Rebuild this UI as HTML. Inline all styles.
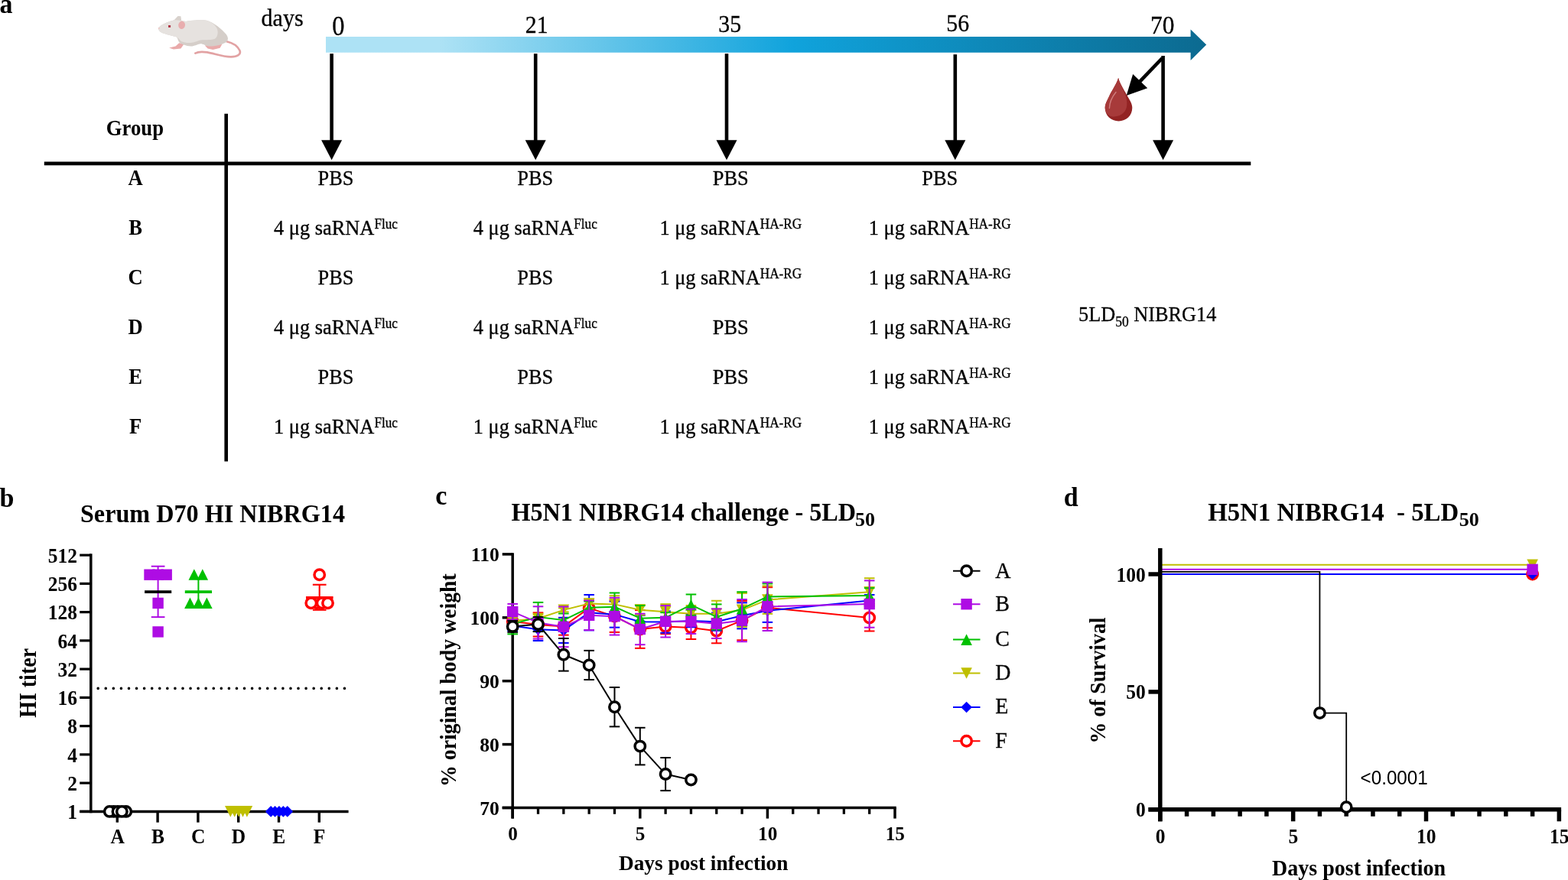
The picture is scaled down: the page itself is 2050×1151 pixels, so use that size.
<!DOCTYPE html>
<html lang="en">
<head>
<meta charset="utf-8">
<title>Figure: saRNA prime-boost schedule, HI titers, body weight and survival</title>
<style>
html,body{margin:0;padding:0;background:#fff;}
body{width:2050px;height:1151px;overflow:hidden;}
svg{display:block;}
text{fill:#000;}
</style>
</head>
<body>
<svg width="2050" height="1151" viewBox="0 0 2050 1151">
<defs>
<linearGradient id="tl" x1="0" y1="0" x2="1" y2="0">
<stop offset="0" stop-color="#ade2f5"/>
<stop offset="0.13" stop-color="#ade2f5"/>
<stop offset="0.53" stop-color="#10a3dc"/>
<stop offset="1" stop-color="#0c6a90"/>
</linearGradient>
</defs>
<rect x="0" y="0" width="2050" height="1151" fill="#fff"/>
<g id="panel-a">
<text transform="translate(-0.5 16.6) scale(1 1.045)" font-size="34" font-weight="bold" text-anchor="start" font-family="'Liberation Serif','Times New Roman',serif" >a</text>
<text transform="translate(341.6 34.1) scale(1 1.03)" font-size="30" font-weight="normal" text-anchor="start" font-family="'Liberation Serif','Times New Roman',serif" stroke="#000" stroke-width="0.3">days</text>
<g id="mouse">
<path d="M296.3 54.2 C303.5 55.8 310.5 60 313.4 66 C315.6 71.5 310 74.3 302 74.4 C291 74.4 281 70.3 271 68.4 C264.5 67.4 258.5 67.8 255.4 69.6" fill="none" stroke="#e2a2a3" stroke-width="2.7" stroke-linecap="round"/>
<path d="M234.2 56.2 L229.5 60.6 L221.2 62.6 L226.8 64.6 L236.4 63.6 L240.6 57.6 Z" fill="#e9aaaa"/>
<path d="M267.8 59.4 L271.6 63.6 L278.4 65 L287.6 62.8 L290.6 57.2 Z" fill="#e9aaaa"/>
<path d="M227.4 26.4 L232.6 21 L236.4 21.2 L237.2 27.2 Z" fill="#d8d1cc"/>
<path d="M207.2 36.6 C208.5 33.4 217 29.2 227 26.4 C232 25.6 238 27.6 243 28 C250 26.6 262 25.9 270 26.7 C280 29.6 290 38 295.6 44.8 C298.8 49 298.8 53 295.2 55.4 C290 58.6 280 60.6 273.6 60.4 C268 59.8 265.6 57.2 262.2 57.2 C257 58 254 60.8 249.4 60.6 C243 60 238 58.2 234.8 55.8 C232.6 53.6 232.6 50 231 48.4 C226 46.8 216 45.2 210.2 42 C208 40.6 206.8 38.4 207.2 36.6 Z" fill="#d5cec9"/>
<path d="M207.2 36.6 C208.5 33.4 217 29.2 227 26.4 C232 25.6 238 27.6 243 28 C250 26.6 262 25.9 270 26.7 C276.5 28.6 281.5 32.6 284 38 C285.6 43 284.4 48.6 280.6 51 C274 53 266 51.4 260 53 C254 55.6 248 56.6 243 55.8 C238 55 235.6 53.6 234.8 51.8 C233.6 50.4 232.6 49.4 231 48.4 C226 46.8 216 45.2 210.2 42 C208 40.6 206.8 38.4 207.2 36.6 Z" fill="#e6e2df"/>
<ellipse cx="237.6" cy="32.8" rx="4.4" ry="5.2" fill="#e8adae" transform="rotate(10 237.6 32.8)"/>
<rect x="220" y="33" width="3.1" height="2.9" fill="#b03848"/>
<circle cx="207.8" cy="36.9" r="1" fill="#efc6c6"/>
</g>
<polygon points="426,48 1556.6,48 1556.6,38.4 1577.2,58.6 1556.6,79 1556.6,68.8 426,68.8" fill="url(#tl)"/>
<text transform="translate(442.4 46.35) scale(1 1.075)" font-size="32.5" font-weight="normal" text-anchor="middle" font-family="'Liberation Serif','Times New Roman',serif" stroke="#000" stroke-width="0.3">0</text>
<text transform="translate(701.7 43.45) scale(1 1.075)" font-size="29.8" font-weight="normal" text-anchor="middle" font-family="'Liberation Serif','Times New Roman',serif" stroke="#000" stroke-width="0.3">21</text>
<text transform="translate(954.2 41.75) scale(1 1.075)" font-size="29.8" font-weight="normal" text-anchor="middle" font-family="'Liberation Serif','Times New Roman',serif" stroke="#000" stroke-width="0.3">35</text>
<text transform="translate(1252.2 41.15) scale(1 1.075)" font-size="29.8" font-weight="normal" text-anchor="middle" font-family="'Liberation Serif','Times New Roman',serif" stroke="#000" stroke-width="0.3">56</text>
<text transform="translate(1519.7 43.85) scale(1 1.075)" font-size="31.4" font-weight="normal" text-anchor="middle" font-family="'Liberation Serif','Times New Roman',serif" stroke="#000" stroke-width="0.3">70</text>
<line x1="433.6" y1="70.2" x2="433.6" y2="184.3" stroke="#000000" stroke-width="4.6" />
<polygon points="420.1,183.3 447.1,183.3 433.6,209.3" fill="#000000" />
<line x1="700.2" y1="70.2" x2="700.2" y2="184.3" stroke="#000000" stroke-width="4.6" />
<polygon points="686.7,183.3 713.7,183.3 700.2,209.3" fill="#000000" />
<line x1="950" y1="70.2" x2="950" y2="184.3" stroke="#000000" stroke-width="4.6" />
<polygon points="936.5,183.3 963.5,183.3 950,209.3" fill="#000000" />
<line x1="1248.8" y1="71.2" x2="1248.8" y2="184.3" stroke="#000000" stroke-width="4.6" />
<polygon points="1235.3,183.3 1262.3,183.3 1248.8,209.3" fill="#000000" />
<line x1="1520.6" y1="73" x2="1520.6" y2="184.3" stroke="#000000" stroke-width="4.6" />
<polygon points="1507.1,183.3 1534.1,183.3 1520.6,209.3" fill="#000000" />
<line x1="1519.6" y1="76" x2="1489.99" y2="106.94" stroke="#000000" stroke-width="4.6" />
<polygon points="1472.7,125 1500.21,115.34 1481.14,97.09" fill="#000000" />
<path d="M1462.1 101.8 C1463.5 108 1469 116.5 1473 124 C1477 131 1480.3 135.5 1480.3 141 C1480.3 151 1472.5 158.4 1462.5 158.4 C1452.5 158.4 1444.7 151 1444.7 141 C1444.7 135.5 1448 131 1451 124 C1455 116.5 1460.7 108 1462.1 101.8 Z" fill="#932323"/>
<path d="M1462.1 101.8 C1463.3 108 1468 116 1470.8 123 C1473 129 1473.6 133 1473.3 137 C1473 146 1466 152 1457 152.6 C1452 153 1448.5 150.5 1446.6 147.5 C1445.4 145.3 1444.7 143 1444.7 141 C1444.7 135.5 1448 131 1451 124 C1455 116.5 1460.7 108 1462.1 101.8 Z" fill="#a73a3a"/>
<path d="M1450.4 141.5 C1450.6 133 1454.5 126 1459 120.5" fill="none" stroke="#cf7d7d" stroke-width="1.4" stroke-linecap="round"/>
<line x1="57.8" y1="213.85" x2="1635.3" y2="213.85" stroke="#000000" stroke-width="4.8" />
<line x1="295.7" y1="148.8" x2="295.7" y2="603.5" stroke="#000000" stroke-width="4.6" />
<text transform="translate(176.4 176.8) scale(1 1.075)" font-size="26.7" font-weight="bold" text-anchor="middle" font-family="'Liberation Serif','Times New Roman',serif" >Group</text>
<text transform="translate(177.2 241.75) scale(1 1.07)" font-size="26.6" font-weight="bold" text-anchor="middle" font-family="'Liberation Serif','Times New Roman',serif" >A</text>
<text transform="translate(439 241.75) scale(1 1.075)" font-size="26.4" font-weight="normal" text-anchor="middle" font-family="'Liberation Serif','Times New Roman',serif" stroke="#000" stroke-width="0.3">PBS</text>
<text transform="translate(699.8 241.75) scale(1 1.075)" font-size="26.4" font-weight="normal" text-anchor="middle" font-family="'Liberation Serif','Times New Roman',serif" stroke="#000" stroke-width="0.3">PBS</text>
<text transform="translate(955.3 241.75) scale(1 1.075)" font-size="26.4" font-weight="normal" text-anchor="middle" font-family="'Liberation Serif','Times New Roman',serif" stroke="#000" stroke-width="0.3">PBS</text>
<text transform="translate(1228.7 241.75) scale(1 1.075)" font-size="26.4" font-weight="normal" text-anchor="middle" font-family="'Liberation Serif','Times New Roman',serif" stroke="#000" stroke-width="0.3">PBS</text>
<text transform="translate(177.2 306.75) scale(1 1.07)" font-size="26.6" font-weight="bold" text-anchor="middle" font-family="'Liberation Serif','Times New Roman',serif" >B</text>
<text transform="translate(439 306.75) scale(1 1.075)" font-size="26.4" font-weight="normal" text-anchor="middle" font-family="'Liberation Serif','Times New Roman',serif" stroke="#000" stroke-width="0.3">4 μg saRNA<tspan font-size="17.2" dy="-7.4">Fluc</tspan></text>
<text transform="translate(699.8 306.75) scale(1 1.075)" font-size="26.4" font-weight="normal" text-anchor="middle" font-family="'Liberation Serif','Times New Roman',serif" stroke="#000" stroke-width="0.3">4 μg saRNA<tspan font-size="17.2" dy="-7.4">Fluc</tspan></text>
<text transform="translate(955.3 306.75) scale(1 1.075)" font-size="26.4" font-weight="normal" text-anchor="middle" font-family="'Liberation Serif','Times New Roman',serif" stroke="#000" stroke-width="0.3">1 μg saRNA<tspan font-size="17.2" dy="-7.4">HA-RG</tspan></text>
<text transform="translate(1228.7 306.75) scale(1 1.075)" font-size="26.4" font-weight="normal" text-anchor="middle" font-family="'Liberation Serif','Times New Roman',serif" stroke="#000" stroke-width="0.3">1 μg saRNA<tspan font-size="17.2" dy="-7.4">HA-RG</tspan></text>
<text transform="translate(177.2 371.75) scale(1 1.07)" font-size="26.6" font-weight="bold" text-anchor="middle" font-family="'Liberation Serif','Times New Roman',serif" >C</text>
<text transform="translate(439 371.75) scale(1 1.075)" font-size="26.4" font-weight="normal" text-anchor="middle" font-family="'Liberation Serif','Times New Roman',serif" stroke="#000" stroke-width="0.3">PBS</text>
<text transform="translate(699.8 371.75) scale(1 1.075)" font-size="26.4" font-weight="normal" text-anchor="middle" font-family="'Liberation Serif','Times New Roman',serif" stroke="#000" stroke-width="0.3">PBS</text>
<text transform="translate(955.3 371.75) scale(1 1.075)" font-size="26.4" font-weight="normal" text-anchor="middle" font-family="'Liberation Serif','Times New Roman',serif" stroke="#000" stroke-width="0.3">1 μg saRNA<tspan font-size="17.2" dy="-7.4">HA-RG</tspan></text>
<text transform="translate(1228.7 371.75) scale(1 1.075)" font-size="26.4" font-weight="normal" text-anchor="middle" font-family="'Liberation Serif','Times New Roman',serif" stroke="#000" stroke-width="0.3">1 μg saRNA<tspan font-size="17.2" dy="-7.4">HA-RG</tspan></text>
<text transform="translate(177.2 436.75) scale(1 1.07)" font-size="26.6" font-weight="bold" text-anchor="middle" font-family="'Liberation Serif','Times New Roman',serif" >D</text>
<text transform="translate(439 436.75) scale(1 1.075)" font-size="26.4" font-weight="normal" text-anchor="middle" font-family="'Liberation Serif','Times New Roman',serif" stroke="#000" stroke-width="0.3">4 μg saRNA<tspan font-size="17.2" dy="-7.4">Fluc</tspan></text>
<text transform="translate(699.8 436.75) scale(1 1.075)" font-size="26.4" font-weight="normal" text-anchor="middle" font-family="'Liberation Serif','Times New Roman',serif" stroke="#000" stroke-width="0.3">4 μg saRNA<tspan font-size="17.2" dy="-7.4">Fluc</tspan></text>
<text transform="translate(955.3 436.75) scale(1 1.075)" font-size="26.4" font-weight="normal" text-anchor="middle" font-family="'Liberation Serif','Times New Roman',serif" stroke="#000" stroke-width="0.3">PBS</text>
<text transform="translate(1228.7 436.75) scale(1 1.075)" font-size="26.4" font-weight="normal" text-anchor="middle" font-family="'Liberation Serif','Times New Roman',serif" stroke="#000" stroke-width="0.3">1 μg saRNA<tspan font-size="17.2" dy="-7.4">HA-RG</tspan></text>
<text transform="translate(177.2 501.75) scale(1 1.07)" font-size="26.6" font-weight="bold" text-anchor="middle" font-family="'Liberation Serif','Times New Roman',serif" >E</text>
<text transform="translate(439 501.75) scale(1 1.075)" font-size="26.4" font-weight="normal" text-anchor="middle" font-family="'Liberation Serif','Times New Roman',serif" stroke="#000" stroke-width="0.3">PBS</text>
<text transform="translate(699.8 501.75) scale(1 1.075)" font-size="26.4" font-weight="normal" text-anchor="middle" font-family="'Liberation Serif','Times New Roman',serif" stroke="#000" stroke-width="0.3">PBS</text>
<text transform="translate(955.3 501.75) scale(1 1.075)" font-size="26.4" font-weight="normal" text-anchor="middle" font-family="'Liberation Serif','Times New Roman',serif" stroke="#000" stroke-width="0.3">PBS</text>
<text transform="translate(1228.7 501.75) scale(1 1.075)" font-size="26.4" font-weight="normal" text-anchor="middle" font-family="'Liberation Serif','Times New Roman',serif" stroke="#000" stroke-width="0.3">1 μg saRNA<tspan font-size="17.2" dy="-7.4">HA-RG</tspan></text>
<text transform="translate(177.2 566.75) scale(1 1.07)" font-size="26.6" font-weight="bold" text-anchor="middle" font-family="'Liberation Serif','Times New Roman',serif" >F</text>
<text transform="translate(439 566.75) scale(1 1.075)" font-size="26.4" font-weight="normal" text-anchor="middle" font-family="'Liberation Serif','Times New Roman',serif" stroke="#000" stroke-width="0.3">1 μg saRNA<tspan font-size="17.2" dy="-7.4">Fluc</tspan></text>
<text transform="translate(699.8 566.75) scale(1 1.075)" font-size="26.4" font-weight="normal" text-anchor="middle" font-family="'Liberation Serif','Times New Roman',serif" stroke="#000" stroke-width="0.3">1 μg saRNA<tspan font-size="17.2" dy="-7.4">Fluc</tspan></text>
<text transform="translate(955.3 566.75) scale(1 1.075)" font-size="26.4" font-weight="normal" text-anchor="middle" font-family="'Liberation Serif','Times New Roman',serif" stroke="#000" stroke-width="0.3">1 μg saRNA<tspan font-size="17.2" dy="-7.4">HA-RG</tspan></text>
<text transform="translate(1228.7 566.75) scale(1 1.075)" font-size="26.4" font-weight="normal" text-anchor="middle" font-family="'Liberation Serif','Times New Roman',serif" stroke="#000" stroke-width="0.3">1 μg saRNA<tspan font-size="17.2" dy="-7.4">HA-RG</tspan></text>
<text transform="translate(1410 420) scale(1 1.075)" font-size="26.3" font-weight="normal" text-anchor="start" font-family="'Liberation Serif','Times New Roman',serif" stroke="#000" stroke-width="0.3">5LD<tspan font-size="17.5" dy="6.2">50</tspan><tspan dy="-6.2"> NIBRG14</tspan></text>
</g>
<g id="panel-b">
<text transform="translate(-0.5 662.5) scale(1 1.045)" font-size="34" font-weight="bold" text-anchor="start" font-family="'Liberation Serif','Times New Roman',serif" >b</text>
<text transform="translate(278 683.3) scale(1 1.045)" font-size="32.2" font-weight="bold" text-anchor="middle" font-family="'Liberation Serif','Times New Roman',serif" >Serum D70 HI NIBRG14</text>
<line x1="118.8" y1="724.35" x2="118.8" y2="1063.15" stroke="#000000" stroke-width="3.5" />
<line x1="104.2" y1="1061.4" x2="455.6" y2="1061.4" stroke="#000000" stroke-width="3.5" />
<line x1="104.2" y1="726.1" x2="118.8" y2="726.1" stroke="#000000" stroke-width="3.2" />
<text transform="translate(100.9 735.8) scale(1 1.045)" font-size="25.5" font-weight="bold" text-anchor="end" font-family="'Liberation Serif','Times New Roman',serif" >512</text>
<line x1="104.2" y1="763.36" x2="118.8" y2="763.36" stroke="#000000" stroke-width="3.2" />
<text transform="translate(100.9 773.06) scale(1 1.045)" font-size="25.5" font-weight="bold" text-anchor="end" font-family="'Liberation Serif','Times New Roman',serif" >256</text>
<line x1="104.2" y1="800.61" x2="118.8" y2="800.61" stroke="#000000" stroke-width="3.2" />
<text transform="translate(100.9 810.31) scale(1 1.045)" font-size="25.5" font-weight="bold" text-anchor="end" font-family="'Liberation Serif','Times New Roman',serif" >128</text>
<line x1="104.2" y1="837.87" x2="118.8" y2="837.87" stroke="#000000" stroke-width="3.2" />
<text transform="translate(100.9 847.57) scale(1 1.045)" font-size="25.5" font-weight="bold" text-anchor="end" font-family="'Liberation Serif','Times New Roman',serif" >64</text>
<line x1="104.2" y1="875.12" x2="118.8" y2="875.12" stroke="#000000" stroke-width="3.2" />
<text transform="translate(100.9 884.82) scale(1 1.045)" font-size="25.5" font-weight="bold" text-anchor="end" font-family="'Liberation Serif','Times New Roman',serif" >32</text>
<line x1="104.2" y1="912.38" x2="118.8" y2="912.38" stroke="#000000" stroke-width="3.2" />
<text transform="translate(100.9 922.08) scale(1 1.045)" font-size="25.5" font-weight="bold" text-anchor="end" font-family="'Liberation Serif','Times New Roman',serif" >16</text>
<line x1="104.2" y1="949.63" x2="118.8" y2="949.63" stroke="#000000" stroke-width="3.2" />
<text transform="translate(100.9 959.33) scale(1 1.045)" font-size="25.5" font-weight="bold" text-anchor="end" font-family="'Liberation Serif','Times New Roman',serif" >8</text>
<line x1="104.2" y1="986.89" x2="118.8" y2="986.89" stroke="#000000" stroke-width="3.2" />
<text transform="translate(100.9 996.59) scale(1 1.045)" font-size="25.5" font-weight="bold" text-anchor="end" font-family="'Liberation Serif','Times New Roman',serif" >4</text>
<line x1="104.2" y1="1024.14" x2="118.8" y2="1024.14" stroke="#000000" stroke-width="3.2" />
<text transform="translate(100.9 1033.84) scale(1 1.045)" font-size="25.5" font-weight="bold" text-anchor="end" font-family="'Liberation Serif','Times New Roman',serif" >2</text>
<line x1="104.2" y1="1061.4" x2="118.8" y2="1061.4" stroke="#000000" stroke-width="3.2" />
<text transform="translate(100.9 1071.1) scale(1 1.045)" font-size="25.5" font-weight="bold" text-anchor="end" font-family="'Liberation Serif','Times New Roman',serif" >1</text>
<line x1="153.3" y1="1061.4" x2="153.3" y2="1075.7" stroke="#000000" stroke-width="3.4" />
<text transform="translate(153.6 1102.7) scale(1 1.045)" font-size="25.5" font-weight="bold" text-anchor="middle" font-family="'Liberation Serif','Times New Roman',serif" >A</text>
<line x1="206.1" y1="1061.4" x2="206.1" y2="1075.7" stroke="#000000" stroke-width="3.4" />
<text transform="translate(206.4 1102.7) scale(1 1.045)" font-size="25.5" font-weight="bold" text-anchor="middle" font-family="'Liberation Serif','Times New Roman',serif" >B</text>
<line x1="258.9" y1="1061.4" x2="258.9" y2="1075.7" stroke="#000000" stroke-width="3.4" />
<text transform="translate(259.2 1102.7) scale(1 1.045)" font-size="25.5" font-weight="bold" text-anchor="middle" font-family="'Liberation Serif','Times New Roman',serif" >C</text>
<line x1="311.7" y1="1061.4" x2="311.7" y2="1075.7" stroke="#000000" stroke-width="3.4" />
<text transform="translate(312 1102.7) scale(1 1.045)" font-size="25.5" font-weight="bold" text-anchor="middle" font-family="'Liberation Serif','Times New Roman',serif" >D</text>
<line x1="364.5" y1="1061.4" x2="364.5" y2="1075.7" stroke="#000000" stroke-width="3.4" />
<text transform="translate(364.8 1102.7) scale(1 1.045)" font-size="25.5" font-weight="bold" text-anchor="middle" font-family="'Liberation Serif','Times New Roman',serif" >E</text>
<line x1="417.3" y1="1061.4" x2="417.3" y2="1075.7" stroke="#000000" stroke-width="3.4" />
<text transform="translate(417.6 1102.7) scale(1 1.045)" font-size="25.5" font-weight="bold" text-anchor="middle" font-family="'Liberation Serif','Times New Roman',serif" >F</text>
<text transform="translate(47.1 893.4) rotate(-90) scale(1 1.09)" font-size="28" font-weight="bold" text-anchor="middle" font-family="'Liberation Serif','Times New Roman',serif">HI titer</text>
<line x1="128.2" y1="900.4" x2="451" y2="900.4" stroke="#000" stroke-width="3.6" stroke-linecap="round" stroke-dasharray="0 10.07"/>
<line x1="206.6" y1="740.7" x2="206.6" y2="807.1" stroke="#ae0ce4" stroke-width="2" />
<line x1="197.75" y1="740.7" x2="215.45" y2="740.7" stroke="#ae0ce4" stroke-width="2" />
<line x1="197.75" y1="807.1" x2="215.45" y2="807.1" stroke="#ae0ce4" stroke-width="2" />
<line x1="189.1" y1="774.1" x2="224.2" y2="774.1" stroke="#000000" stroke-width="3.6" />
<rect x="188.3" y="744.5" width="14.4" height="14.4" fill="#ae0ce4"/>
<rect x="199.4" y="744.5" width="14.4" height="14.4" fill="#ae0ce4"/>
<rect x="210.5" y="744.5" width="14.4" height="14.4" fill="#ae0ce4"/>
<rect x="199.4" y="781.7" width="14.4" height="14.4" fill="#ae0ce4"/>
<rect x="199.4" y="819.2" width="14.4" height="14.4" fill="#ae0ce4"/>
<line x1="259.4" y1="756.5" x2="259.4" y2="793" stroke="#00c000" stroke-width="2" />
<line x1="250.6" y1="756.5" x2="268.2" y2="756.5" stroke="#00c000" stroke-width="2" />
<line x1="250.6" y1="793" x2="268.2" y2="793" stroke="#00c000" stroke-width="2" />
<line x1="241.8" y1="774.1" x2="277" y2="774.1" stroke="#00c000" stroke-width="3.6" />
<polygon points="246.5,758.8 261.1,758.8 253.8,744.2" fill="#00c000" />
<polygon points="257.5,758.8 272.1,758.8 264.8,744.2" fill="#00c000" />
<polygon points="241.15,796.05 255.75,796.05 248.45,781.45" fill="#00c000" />
<polygon points="252.1,796.05 266.7,796.05 259.4,781.45" fill="#00c000" />
<polygon points="263.05,796.05 277.65,796.05 270.35,781.45" fill="#00c000" />
<line x1="400" y1="781.7" x2="435.6" y2="781.7" stroke="#ff0000" stroke-width="3.6" />
<line x1="417.7" y1="764.75" x2="417.7" y2="797.75" stroke="#ff0000" stroke-width="2.1" />
<line x1="408.85" y1="764.75" x2="426.55" y2="764.75" stroke="#ff0000" stroke-width="2.1" />
<line x1="408.85" y1="797.75" x2="426.55" y2="797.75" stroke="#ff0000" stroke-width="2.1" />
<circle cx="417.7" cy="751.7" r="6.7" fill="#fff" stroke="#ff0000" stroke-width="3.5"/>
<circle cx="414.1" cy="788.7" r="6.7" fill="#fff" stroke="#ff0000" stroke-width="3.5"/>
<circle cx="406.8" cy="788.7" r="6.7" fill="#fff" stroke="#ff0000" stroke-width="3.5"/>
<circle cx="421.2" cy="788.7" r="6.7" fill="#fff" stroke="#ff0000" stroke-width="3.5"/>
<circle cx="428.5" cy="788.7" r="6.7" fill="#fff" stroke="#ff0000" stroke-width="3.5"/>
<circle cx="148.65" cy="1061.4" r="6.7" fill="#fff" stroke="#000000" stroke-width="3.5"/>
<circle cx="164.7" cy="1061.4" r="6.7" fill="#fff" stroke="#000000" stroke-width="3.5"/>
<circle cx="143.3" cy="1061.4" r="6.7" fill="#fff" stroke="#000000" stroke-width="3.5"/>
<circle cx="154" cy="1061.4" r="6.7" fill="#fff" stroke="#000000" stroke-width="3.5"/>
<circle cx="159.35" cy="1061.4" r="6.7" fill="#fff" stroke="#000000" stroke-width="3.5"/>
<polygon points="294,1054.1 308.6,1054.1 301.3,1068.7" fill="#bfbf00" />
<polygon points="299.4,1054.1 314,1054.1 306.7,1068.7" fill="#bfbf00" />
<polygon points="310.2,1054.1 324.8,1054.1 317.5,1068.7" fill="#bfbf00" />
<polygon points="315.6,1054.1 330.2,1054.1 322.9,1068.7" fill="#bfbf00" />
<polygon points="304.8,1054.1 319.4,1054.1 312.1,1068.7" fill="#bfbf00" />
<polygon points="346.8,1061.4 354.15,1054.05 361.5,1061.4 354.15,1068.75" fill="#0000ff" />
<polygon points="352.2,1061.4 359.55,1054.05 366.9,1061.4 359.55,1068.75" fill="#0000ff" />
<polygon points="357.6,1061.4 364.95,1054.05 372.3,1061.4 364.95,1068.75" fill="#0000ff" />
<polygon points="363,1061.4 370.35,1054.05 377.7,1061.4 370.35,1068.75" fill="#0000ff" />
<polygon points="368.4,1061.4 375.75,1054.05 383.1,1061.4 375.75,1068.75" fill="#0000ff" />
</g>
<g id="panel-c">
<text transform="translate(569.2 660.2) scale(1 1.045)" font-size="34" font-weight="bold" text-anchor="start" font-family="'Liberation Serif','Times New Roman',serif" >c</text>
<text transform="translate(668.4 680.8) scale(1 1.045)" font-size="32.2" font-weight="bold" text-anchor="start" font-family="'Liberation Serif','Times New Roman',serif" >H5N1 NIBRG14 challenge - 5LD</text>
<text transform="translate(1118 687.5) scale(1 0.93)" font-size="26" font-weight="bold" text-anchor="start" font-family="'Liberation Serif','Times New Roman',serif" >50</text>
<line x1="670.2" y1="723.15" x2="670.2" y2="1070.6" stroke="#000000" stroke-width="3.5" />
<line x1="656.7" y1="1056.5" x2="1171.75" y2="1056.5" stroke="#000000" stroke-width="3.5" />
<line x1="656.7" y1="724.9" x2="670.2" y2="724.9" stroke="#000000" stroke-width="3.5" />
<text transform="translate(652.8 734.4) scale(1 1.0)" font-size="25.6" font-weight="bold" text-anchor="end" font-family="'Liberation Serif','Times New Roman',serif" >110</text>
<line x1="656.7" y1="807.8" x2="670.2" y2="807.8" stroke="#000000" stroke-width="3.5" />
<text transform="translate(652.8 817.3) scale(1 1.0)" font-size="25.6" font-weight="bold" text-anchor="end" font-family="'Liberation Serif','Times New Roman',serif" >100</text>
<line x1="656.7" y1="890.7" x2="670.2" y2="890.7" stroke="#000000" stroke-width="3.5" />
<text transform="translate(652.8 900.2) scale(1 1.0)" font-size="25.6" font-weight="bold" text-anchor="end" font-family="'Liberation Serif','Times New Roman',serif" >90</text>
<line x1="656.7" y1="973.6" x2="670.2" y2="973.6" stroke="#000000" stroke-width="3.5" />
<text transform="translate(652.8 983.1) scale(1 1.0)" font-size="25.6" font-weight="bold" text-anchor="end" font-family="'Liberation Serif','Times New Roman',serif" >80</text>
<line x1="656.7" y1="1056.5" x2="670.2" y2="1056.5" stroke="#000000" stroke-width="3.5" />
<text transform="translate(652.8 1066) scale(1 1.0)" font-size="25.6" font-weight="bold" text-anchor="end" font-family="'Liberation Serif','Times New Roman',serif" >70</text>
<line x1="670.2" y1="1056.5" x2="670.2" y2="1070.6" stroke="#000000" stroke-width="3.5" />
<text transform="translate(670.5 1098.5) scale(1 1.0)" font-size="25.2" font-weight="bold" text-anchor="middle" font-family="'Liberation Serif','Times New Roman',serif" >0</text>
<line x1="703.52" y1="1056.5" x2="703.52" y2="1064.8" stroke="#000000" stroke-width="3.3" />
<line x1="736.84" y1="1056.5" x2="736.84" y2="1064.8" stroke="#000000" stroke-width="3.3" />
<line x1="770.16" y1="1056.5" x2="770.16" y2="1064.8" stroke="#000000" stroke-width="3.3" />
<line x1="803.48" y1="1056.5" x2="803.48" y2="1064.8" stroke="#000000" stroke-width="3.3" />
<line x1="836.8" y1="1056.5" x2="836.8" y2="1070.6" stroke="#000000" stroke-width="3.5" />
<text transform="translate(837.1 1098.5) scale(1 1.0)" font-size="25.2" font-weight="bold" text-anchor="middle" font-family="'Liberation Serif','Times New Roman',serif" >5</text>
<line x1="870.12" y1="1056.5" x2="870.12" y2="1064.8" stroke="#000000" stroke-width="3.3" />
<line x1="903.44" y1="1056.5" x2="903.44" y2="1064.8" stroke="#000000" stroke-width="3.3" />
<line x1="936.76" y1="1056.5" x2="936.76" y2="1064.8" stroke="#000000" stroke-width="3.3" />
<line x1="970.08" y1="1056.5" x2="970.08" y2="1064.8" stroke="#000000" stroke-width="3.3" />
<line x1="1003.4" y1="1056.5" x2="1003.4" y2="1070.6" stroke="#000000" stroke-width="3.5" />
<text transform="translate(1003.7 1098.5) scale(1 1.0)" font-size="25.2" font-weight="bold" text-anchor="middle" font-family="'Liberation Serif','Times New Roman',serif" >10</text>
<line x1="1036.72" y1="1056.5" x2="1036.72" y2="1064.8" stroke="#000000" stroke-width="3.3" />
<line x1="1070.04" y1="1056.5" x2="1070.04" y2="1064.8" stroke="#000000" stroke-width="3.3" />
<line x1="1103.36" y1="1056.5" x2="1103.36" y2="1064.8" stroke="#000000" stroke-width="3.3" />
<line x1="1136.68" y1="1056.5" x2="1136.68" y2="1064.8" stroke="#000000" stroke-width="3.3" />
<line x1="1170" y1="1056.5" x2="1170" y2="1070.6" stroke="#000000" stroke-width="3.5" />
<text transform="translate(1170.3 1098.5) scale(1 1.0)" font-size="25.2" font-weight="bold" text-anchor="middle" font-family="'Liberation Serif','Times New Roman',serif" >15</text>
<text transform="translate(919.7 1137.5) scale(1 0.99)" font-size="27.3" font-weight="bold" text-anchor="middle" font-family="'Liberation Serif','Times New Roman',serif" >Days post infection</text>
<text transform="translate(595.8 889.6) rotate(-90) scale(1 1.09)" font-size="27.8" font-weight="bold" text-anchor="middle" font-family="'Liberation Serif','Times New Roman',serif">% original body weight</text>
<polyline fill="none" stroke="#ff0000" stroke-width="2" stroke-linejoin="round" points="670.2,812.77 703.52,816.92 736.84,819.41 770.16,795.37 803.48,806.14 836.8,822.97 870.12,819.41 903.44,821.06 936.76,825.21 970.08,811.61 1003.4,794.7 1136.68,808.05"/>
<line x1="670.2" y1="808.63" x2="670.2" y2="816.92" stroke="#ff0000" stroke-width="2" />
<line x1="663.4" y1="808.63" x2="677" y2="808.63" stroke="#ff0000" stroke-width="2" />
<line x1="663.4" y1="816.92" x2="677" y2="816.92" stroke="#ff0000" stroke-width="2" />
<line x1="703.52" y1="801.33" x2="703.52" y2="832.5" stroke="#ff0000" stroke-width="2" />
<line x1="696.72" y1="801.33" x2="710.32" y2="801.33" stroke="#ff0000" stroke-width="2" />
<line x1="696.72" y1="832.5" x2="710.32" y2="832.5" stroke="#ff0000" stroke-width="2" />
<line x1="736.84" y1="808.21" x2="736.84" y2="830.6" stroke="#ff0000" stroke-width="2" />
<line x1="730.04" y1="808.21" x2="743.64" y2="808.21" stroke="#ff0000" stroke-width="2" />
<line x1="730.04" y1="830.6" x2="743.64" y2="830.6" stroke="#ff0000" stroke-width="2" />
<line x1="770.16" y1="785.42" x2="770.16" y2="805.31" stroke="#ff0000" stroke-width="2" />
<line x1="763.36" y1="785.42" x2="776.96" y2="785.42" stroke="#ff0000" stroke-width="2" />
<line x1="763.36" y1="805.31" x2="776.96" y2="805.31" stroke="#ff0000" stroke-width="2" />
<line x1="803.48" y1="785.42" x2="803.48" y2="826.87" stroke="#ff0000" stroke-width="2" />
<line x1="796.68" y1="785.42" x2="810.28" y2="785.42" stroke="#ff0000" stroke-width="2" />
<line x1="796.68" y1="826.87" x2="810.28" y2="826.87" stroke="#ff0000" stroke-width="2" />
<line x1="836.8" y1="798.1" x2="836.8" y2="847.84" stroke="#ff0000" stroke-width="2" />
<line x1="830" y1="798.1" x2="843.6" y2="798.1" stroke="#ff0000" stroke-width="2" />
<line x1="830" y1="847.84" x2="843.6" y2="847.84" stroke="#ff0000" stroke-width="2" />
<line x1="870.12" y1="809.62" x2="870.12" y2="829.19" stroke="#ff0000" stroke-width="2" />
<line x1="863.32" y1="809.62" x2="876.92" y2="809.62" stroke="#ff0000" stroke-width="2" />
<line x1="863.32" y1="829.19" x2="876.92" y2="829.19" stroke="#ff0000" stroke-width="2" />
<line x1="903.44" y1="806.14" x2="903.44" y2="835.99" stroke="#ff0000" stroke-width="2" />
<line x1="896.64" y1="806.14" x2="910.24" y2="806.14" stroke="#ff0000" stroke-width="2" />
<line x1="896.64" y1="835.99" x2="910.24" y2="835.99" stroke="#ff0000" stroke-width="2" />
<line x1="936.76" y1="809.13" x2="936.76" y2="841.29" stroke="#ff0000" stroke-width="2" />
<line x1="929.96" y1="809.13" x2="943.56" y2="809.13" stroke="#ff0000" stroke-width="2" />
<line x1="929.96" y1="841.29" x2="943.56" y2="841.29" stroke="#ff0000" stroke-width="2" />
<line x1="970.08" y1="785.91" x2="970.08" y2="837.31" stroke="#ff0000" stroke-width="2" />
<line x1="963.28" y1="785.91" x2="976.88" y2="785.91" stroke="#ff0000" stroke-width="2" />
<line x1="963.28" y1="837.31" x2="976.88" y2="837.31" stroke="#ff0000" stroke-width="2" />
<line x1="1003.4" y1="768.17" x2="1003.4" y2="821.23" stroke="#ff0000" stroke-width="2" />
<line x1="996.6" y1="768.17" x2="1010.2" y2="768.17" stroke="#ff0000" stroke-width="2" />
<line x1="996.6" y1="821.23" x2="1010.2" y2="821.23" stroke="#ff0000" stroke-width="2" />
<line x1="1136.68" y1="790.64" x2="1136.68" y2="825.46" stroke="#ff0000" stroke-width="2" />
<line x1="1129.88" y1="790.64" x2="1143.48" y2="790.64" stroke="#ff0000" stroke-width="2" />
<line x1="1129.88" y1="825.46" x2="1143.48" y2="825.46" stroke="#ff0000" stroke-width="2" />
<circle cx="670.2" cy="812.77" r="6.7" fill="#fff" stroke="#ff0000" stroke-width="3.5"/>
<circle cx="703.52" cy="816.92" r="6.7" fill="#fff" stroke="#ff0000" stroke-width="3.5"/>
<circle cx="736.84" cy="819.41" r="6.7" fill="#fff" stroke="#ff0000" stroke-width="3.5"/>
<circle cx="770.16" cy="795.37" r="6.7" fill="#fff" stroke="#ff0000" stroke-width="3.5"/>
<circle cx="803.48" cy="806.14" r="6.7" fill="#fff" stroke="#ff0000" stroke-width="3.5"/>
<circle cx="836.8" cy="822.97" r="6.7" fill="#fff" stroke="#ff0000" stroke-width="3.5"/>
<circle cx="870.12" cy="819.41" r="6.7" fill="#fff" stroke="#ff0000" stroke-width="3.5"/>
<circle cx="903.44" cy="821.06" r="6.7" fill="#fff" stroke="#ff0000" stroke-width="3.5"/>
<circle cx="936.76" cy="825.21" r="6.7" fill="#fff" stroke="#ff0000" stroke-width="3.5"/>
<circle cx="970.08" cy="811.61" r="6.7" fill="#fff" stroke="#ff0000" stroke-width="3.5"/>
<circle cx="1003.4" cy="794.7" r="6.7" fill="#fff" stroke="#ff0000" stroke-width="3.5"/>
<circle cx="1136.68" cy="808.05" r="6.7" fill="#fff" stroke="#ff0000" stroke-width="3.5"/>
<polyline fill="none" stroke="#0000ff" stroke-width="2" stroke-linejoin="round" points="670.2,818.58 703.52,823.14 736.84,824.38 770.16,801.17 803.48,803.65 836.8,813.19 870.12,813.6 903.44,811.95 936.76,813.19 970.08,805.31 1003.4,798.68 1136.68,785.42"/>
<line x1="670.2" y1="811.95" x2="670.2" y2="825.21" stroke="#0000ff" stroke-width="2" />
<line x1="663.4" y1="811.95" x2="677" y2="811.95" stroke="#0000ff" stroke-width="2" />
<line x1="663.4" y1="825.21" x2="677" y2="825.21" stroke="#0000ff" stroke-width="2" />
<line x1="703.52" y1="808.21" x2="703.52" y2="838.06" stroke="#0000ff" stroke-width="2" />
<line x1="696.72" y1="808.21" x2="710.32" y2="808.21" stroke="#0000ff" stroke-width="2" />
<line x1="696.72" y1="838.06" x2="710.32" y2="838.06" stroke="#0000ff" stroke-width="2" />
<line x1="736.84" y1="807.8" x2="736.84" y2="840.96" stroke="#0000ff" stroke-width="2" />
<line x1="730.04" y1="807.8" x2="743.64" y2="807.8" stroke="#0000ff" stroke-width="2" />
<line x1="730.04" y1="840.96" x2="743.64" y2="840.96" stroke="#0000ff" stroke-width="2" />
<line x1="770.16" y1="777.96" x2="770.16" y2="824.38" stroke="#0000ff" stroke-width="2" />
<line x1="763.36" y1="777.96" x2="776.96" y2="777.96" stroke="#0000ff" stroke-width="2" />
<line x1="763.36" y1="824.38" x2="776.96" y2="824.38" stroke="#0000ff" stroke-width="2" />
<line x1="803.48" y1="786.66" x2="803.48" y2="820.65" stroke="#0000ff" stroke-width="2" />
<line x1="796.68" y1="786.66" x2="810.28" y2="786.66" stroke="#0000ff" stroke-width="2" />
<line x1="796.68" y1="820.65" x2="810.28" y2="820.65" stroke="#0000ff" stroke-width="2" />
<line x1="836.8" y1="804.9" x2="836.8" y2="821.48" stroke="#0000ff" stroke-width="2" />
<line x1="830" y1="804.9" x2="843.6" y2="804.9" stroke="#0000ff" stroke-width="2" />
<line x1="830" y1="821.48" x2="843.6" y2="821.48" stroke="#0000ff" stroke-width="2" />
<line x1="870.12" y1="799.51" x2="870.12" y2="827.7" stroke="#0000ff" stroke-width="2" />
<line x1="863.32" y1="799.51" x2="876.92" y2="799.51" stroke="#0000ff" stroke-width="2" />
<line x1="863.32" y1="827.7" x2="876.92" y2="827.7" stroke="#0000ff" stroke-width="2" />
<line x1="903.44" y1="803.65" x2="903.44" y2="820.24" stroke="#0000ff" stroke-width="2" />
<line x1="896.64" y1="803.65" x2="910.24" y2="803.65" stroke="#0000ff" stroke-width="2" />
<line x1="896.64" y1="820.24" x2="910.24" y2="820.24" stroke="#0000ff" stroke-width="2" />
<line x1="936.76" y1="801.58" x2="936.76" y2="824.79" stroke="#0000ff" stroke-width="2" />
<line x1="929.96" y1="801.58" x2="943.56" y2="801.58" stroke="#0000ff" stroke-width="2" />
<line x1="929.96" y1="824.79" x2="943.56" y2="824.79" stroke="#0000ff" stroke-width="2" />
<line x1="970.08" y1="788.32" x2="970.08" y2="822.31" stroke="#0000ff" stroke-width="2" />
<line x1="963.28" y1="788.32" x2="976.88" y2="788.32" stroke="#0000ff" stroke-width="2" />
<line x1="963.28" y1="822.31" x2="976.88" y2="822.31" stroke="#0000ff" stroke-width="2" />
<line x1="1003.4" y1="783.51" x2="1003.4" y2="813.85" stroke="#0000ff" stroke-width="2" />
<line x1="996.6" y1="783.51" x2="1010.2" y2="783.51" stroke="#0000ff" stroke-width="2" />
<line x1="996.6" y1="813.85" x2="1010.2" y2="813.85" stroke="#0000ff" stroke-width="2" />
<line x1="1136.68" y1="777.96" x2="1136.68" y2="792.88" stroke="#0000ff" stroke-width="2" />
<line x1="1129.88" y1="777.96" x2="1143.48" y2="777.96" stroke="#0000ff" stroke-width="2" />
<line x1="1129.88" y1="792.88" x2="1143.48" y2="792.88" stroke="#0000ff" stroke-width="2" />
<polygon points="662.85,818.58 670.2,811.23 677.55,818.58 670.2,825.93" fill="#0000ff" />
<polygon points="696.17,823.14 703.52,815.79 710.87,823.14 703.52,830.49" fill="#0000ff" />
<polygon points="729.49,824.38 736.84,817.03 744.19,824.38 736.84,831.73" fill="#0000ff" />
<polygon points="762.81,801.17 770.16,793.82 777.51,801.17 770.16,808.52" fill="#0000ff" />
<polygon points="796.13,803.65 803.48,796.3 810.83,803.65 803.48,811" fill="#0000ff" />
<polygon points="829.45,813.19 836.8,805.84 844.15,813.19 836.8,820.54" fill="#0000ff" />
<polygon points="862.77,813.6 870.12,806.25 877.47,813.6 870.12,820.95" fill="#0000ff" />
<polygon points="896.09,811.95 903.44,804.6 910.79,811.95 903.44,819.3" fill="#0000ff" />
<polygon points="929.41,813.19 936.76,805.84 944.11,813.19 936.76,820.54" fill="#0000ff" />
<polygon points="962.73,805.31 970.08,797.96 977.43,805.31 970.08,812.66" fill="#0000ff" />
<polygon points="996.05,798.68 1003.4,791.33 1010.75,798.68 1003.4,806.03" fill="#0000ff" />
<polygon points="1129.33,785.42 1136.68,778.07 1144.03,785.42 1136.68,792.77" fill="#0000ff" />
<polyline fill="none" stroke="#bfbf00" stroke-width="2" stroke-linejoin="round" points="670.2,811.95 703.52,809.04 736.84,797.85 770.16,789.56 803.48,790.39 836.8,797.85 870.12,800.34 903.44,802.83 936.76,802.83 970.08,797.85 1003.4,784.59 1136.68,774.23"/>
<line x1="670.2" y1="807.8" x2="670.2" y2="816.09" stroke="#bfbf00" stroke-width="2" />
<line x1="663.4" y1="807.8" x2="677" y2="807.8" stroke="#bfbf00" stroke-width="2" />
<line x1="663.4" y1="816.09" x2="677" y2="816.09" stroke="#bfbf00" stroke-width="2" />
<line x1="703.52" y1="804.07" x2="703.52" y2="814.02" stroke="#bfbf00" stroke-width="2" />
<line x1="696.72" y1="804.07" x2="710.32" y2="804.07" stroke="#bfbf00" stroke-width="2" />
<line x1="696.72" y1="814.02" x2="710.32" y2="814.02" stroke="#bfbf00" stroke-width="2" />
<line x1="736.84" y1="795.37" x2="736.84" y2="800.34" stroke="#bfbf00" stroke-width="2" />
<line x1="730.04" y1="795.37" x2="743.64" y2="795.37" stroke="#bfbf00" stroke-width="2" />
<line x1="730.04" y1="800.34" x2="743.64" y2="800.34" stroke="#bfbf00" stroke-width="2" />
<line x1="770.16" y1="783.43" x2="770.16" y2="795.7" stroke="#bfbf00" stroke-width="2" />
<line x1="763.36" y1="783.43" x2="776.96" y2="783.43" stroke="#bfbf00" stroke-width="2" />
<line x1="763.36" y1="795.7" x2="776.96" y2="795.7" stroke="#bfbf00" stroke-width="2" />
<line x1="803.48" y1="779.2" x2="803.48" y2="801.58" stroke="#bfbf00" stroke-width="2" />
<line x1="796.68" y1="779.2" x2="810.28" y2="779.2" stroke="#bfbf00" stroke-width="2" />
<line x1="796.68" y1="801.58" x2="810.28" y2="801.58" stroke="#bfbf00" stroke-width="2" />
<line x1="836.8" y1="791.22" x2="836.8" y2="804.48" stroke="#bfbf00" stroke-width="2" />
<line x1="830" y1="791.22" x2="843.6" y2="791.22" stroke="#bfbf00" stroke-width="2" />
<line x1="830" y1="804.48" x2="843.6" y2="804.48" stroke="#bfbf00" stroke-width="2" />
<line x1="870.12" y1="790.14" x2="870.12" y2="810.54" stroke="#bfbf00" stroke-width="2" />
<line x1="863.32" y1="790.14" x2="876.92" y2="790.14" stroke="#bfbf00" stroke-width="2" />
<line x1="863.32" y1="810.54" x2="876.92" y2="810.54" stroke="#bfbf00" stroke-width="2" />
<line x1="903.44" y1="792.05" x2="903.44" y2="813.6" stroke="#bfbf00" stroke-width="2" />
<line x1="896.64" y1="792.05" x2="910.24" y2="792.05" stroke="#bfbf00" stroke-width="2" />
<line x1="896.64" y1="813.6" x2="910.24" y2="813.6" stroke="#bfbf00" stroke-width="2" />
<line x1="936.76" y1="785.75" x2="936.76" y2="819.9" stroke="#bfbf00" stroke-width="2" />
<line x1="929.96" y1="785.75" x2="943.56" y2="785.75" stroke="#bfbf00" stroke-width="2" />
<line x1="929.96" y1="819.9" x2="943.56" y2="819.9" stroke="#bfbf00" stroke-width="2" />
<line x1="970.08" y1="775.88" x2="970.08" y2="819.82" stroke="#bfbf00" stroke-width="2" />
<line x1="963.28" y1="775.88" x2="976.88" y2="775.88" stroke="#bfbf00" stroke-width="2" />
<line x1="963.28" y1="819.82" x2="976.88" y2="819.82" stroke="#bfbf00" stroke-width="2" />
<line x1="1003.4" y1="766.35" x2="1003.4" y2="802.83" stroke="#bfbf00" stroke-width="2" />
<line x1="996.6" y1="766.35" x2="1010.2" y2="766.35" stroke="#bfbf00" stroke-width="2" />
<line x1="996.6" y1="802.83" x2="1010.2" y2="802.83" stroke="#bfbf00" stroke-width="2" />
<line x1="1136.68" y1="756.24" x2="1136.68" y2="792.21" stroke="#bfbf00" stroke-width="2" />
<line x1="1129.88" y1="756.24" x2="1143.48" y2="756.24" stroke="#bfbf00" stroke-width="2" />
<line x1="1129.88" y1="792.21" x2="1143.48" y2="792.21" stroke="#bfbf00" stroke-width="2" />
<polygon points="662.9,804.65 677.5,804.65 670.2,819.25" fill="#bfbf00" />
<polygon points="696.22,801.74 710.82,801.74 703.52,816.34" fill="#bfbf00" />
<polygon points="729.54,790.55 744.14,790.55 736.84,805.15" fill="#bfbf00" />
<polygon points="762.86,782.26 777.46,782.26 770.16,796.86" fill="#bfbf00" />
<polygon points="796.18,783.09 810.78,783.09 803.48,797.69" fill="#bfbf00" />
<polygon points="829.5,790.55 844.1,790.55 836.8,805.15" fill="#bfbf00" />
<polygon points="862.82,793.04 877.42,793.04 870.12,807.64" fill="#bfbf00" />
<polygon points="896.14,795.53 910.74,795.53 903.44,810.13" fill="#bfbf00" />
<polygon points="929.46,795.53 944.06,795.53 936.76,810.13" fill="#bfbf00" />
<polygon points="962.78,790.55 977.38,790.55 970.08,805.15" fill="#bfbf00" />
<polygon points="996.1,777.29 1010.7,777.29 1003.4,791.89" fill="#bfbf00" />
<polygon points="1129.38,766.93 1143.98,766.93 1136.68,781.53" fill="#bfbf00" />
<polyline fill="none" stroke="#00c000" stroke-width="2" stroke-linejoin="round" points="670.2,816.09 703.52,806.97 736.84,811.12 770.16,794.87 803.48,793.71 836.8,808.63 870.12,807.8 903.44,791.22 936.76,806.97 970.08,796.19 1003.4,780.44 1136.68,779.12"/>
<line x1="670.2" y1="802.83" x2="670.2" y2="829.35" stroke="#00c000" stroke-width="2" />
<line x1="663.4" y1="802.83" x2="677" y2="802.83" stroke="#00c000" stroke-width="2" />
<line x1="663.4" y1="829.35" x2="677" y2="829.35" stroke="#00c000" stroke-width="2" />
<line x1="703.52" y1="787.9" x2="703.52" y2="826.04" stroke="#00c000" stroke-width="2" />
<line x1="696.72" y1="787.9" x2="710.32" y2="787.9" stroke="#00c000" stroke-width="2" />
<line x1="696.72" y1="826.04" x2="710.32" y2="826.04" stroke="#00c000" stroke-width="2" />
<line x1="736.84" y1="802.49" x2="736.84" y2="819.74" stroke="#00c000" stroke-width="2" />
<line x1="730.04" y1="802.49" x2="743.64" y2="802.49" stroke="#00c000" stroke-width="2" />
<line x1="730.04" y1="819.74" x2="743.64" y2="819.74" stroke="#00c000" stroke-width="2" />
<line x1="770.16" y1="786.58" x2="770.16" y2="803.16" stroke="#00c000" stroke-width="2" />
<line x1="763.36" y1="786.58" x2="776.96" y2="786.58" stroke="#00c000" stroke-width="2" />
<line x1="763.36" y1="803.16" x2="776.96" y2="803.16" stroke="#00c000" stroke-width="2" />
<line x1="803.48" y1="775.47" x2="803.48" y2="811.95" stroke="#00c000" stroke-width="2" />
<line x1="796.68" y1="775.47" x2="810.28" y2="775.47" stroke="#00c000" stroke-width="2" />
<line x1="796.68" y1="811.95" x2="810.28" y2="811.95" stroke="#00c000" stroke-width="2" />
<line x1="836.8" y1="792.05" x2="836.8" y2="825.21" stroke="#00c000" stroke-width="2" />
<line x1="830" y1="792.05" x2="843.6" y2="792.05" stroke="#00c000" stroke-width="2" />
<line x1="830" y1="825.21" x2="843.6" y2="825.21" stroke="#00c000" stroke-width="2" />
<line x1="870.12" y1="801.17" x2="870.12" y2="814.43" stroke="#00c000" stroke-width="2" />
<line x1="863.32" y1="801.17" x2="876.92" y2="801.17" stroke="#00c000" stroke-width="2" />
<line x1="863.32" y1="814.43" x2="876.92" y2="814.43" stroke="#00c000" stroke-width="2" />
<line x1="903.44" y1="777.46" x2="903.44" y2="804.98" stroke="#00c000" stroke-width="2" />
<line x1="896.64" y1="777.46" x2="910.24" y2="777.46" stroke="#00c000" stroke-width="2" />
<line x1="896.64" y1="804.98" x2="910.24" y2="804.98" stroke="#00c000" stroke-width="2" />
<line x1="936.76" y1="790.39" x2="936.76" y2="823.55" stroke="#00c000" stroke-width="2" />
<line x1="929.96" y1="790.39" x2="943.56" y2="790.39" stroke="#00c000" stroke-width="2" />
<line x1="929.96" y1="823.55" x2="943.56" y2="823.55" stroke="#00c000" stroke-width="2" />
<line x1="970.08" y1="774.23" x2="970.08" y2="818.16" stroke="#00c000" stroke-width="2" />
<line x1="963.28" y1="774.23" x2="976.88" y2="774.23" stroke="#00c000" stroke-width="2" />
<line x1="963.28" y1="818.16" x2="976.88" y2="818.16" stroke="#00c000" stroke-width="2" />
<line x1="1003.4" y1="763.37" x2="1003.4" y2="797.52" stroke="#00c000" stroke-width="2" />
<line x1="996.6" y1="763.37" x2="1010.2" y2="763.37" stroke="#00c000" stroke-width="2" />
<line x1="996.6" y1="797.52" x2="1010.2" y2="797.52" stroke="#00c000" stroke-width="2" />
<line x1="1136.68" y1="769.17" x2="1136.68" y2="789.06" stroke="#00c000" stroke-width="2" />
<line x1="1129.88" y1="769.17" x2="1143.48" y2="769.17" stroke="#00c000" stroke-width="2" />
<line x1="1129.88" y1="789.06" x2="1143.48" y2="789.06" stroke="#00c000" stroke-width="2" />
<polygon points="662.9,823.39 677.5,823.39 670.2,808.79" fill="#00c000" />
<polygon points="696.22,814.27 710.82,814.27 703.52,799.67" fill="#00c000" />
<polygon points="729.54,818.42 744.14,818.42 736.84,803.82" fill="#00c000" />
<polygon points="762.86,802.17 777.46,802.17 770.16,787.57" fill="#00c000" />
<polygon points="796.18,801.01 810.78,801.01 803.48,786.41" fill="#00c000" />
<polygon points="829.5,815.93 844.1,815.93 836.8,801.33" fill="#00c000" />
<polygon points="862.82,815.1 877.42,815.1 870.12,800.5" fill="#00c000" />
<polygon points="896.14,798.52 910.74,798.52 903.44,783.92" fill="#00c000" />
<polygon points="929.46,814.27 944.06,814.27 936.76,799.67" fill="#00c000" />
<polygon points="962.78,803.49 977.38,803.49 970.08,788.89" fill="#00c000" />
<polygon points="996.1,787.74 1010.7,787.74 1003.4,773.14" fill="#00c000" />
<polygon points="1129.38,786.42 1143.98,786.42 1136.68,771.82" fill="#00c000" />
<polyline fill="none" stroke="#ae0ce4" stroke-width="2" stroke-linejoin="round" points="670.2,800.09 703.52,814.43 736.84,819.82 770.16,804.82 803.48,806.14 836.8,822.97 870.12,812.77 903.44,812.77 936.76,815.68 970.08,811.61 1003.4,793.29 1136.68,790.06"/>
<line x1="670.2" y1="789.89" x2="670.2" y2="810.29" stroke="#ae0ce4" stroke-width="2" />
<line x1="663.4" y1="789.89" x2="677" y2="789.89" stroke="#ae0ce4" stroke-width="2" />
<line x1="663.4" y1="810.29" x2="677" y2="810.29" stroke="#ae0ce4" stroke-width="2" />
<line x1="703.52" y1="793.29" x2="703.52" y2="835.57" stroke="#ae0ce4" stroke-width="2" />
<line x1="696.72" y1="793.29" x2="710.32" y2="793.29" stroke="#ae0ce4" stroke-width="2" />
<line x1="696.72" y1="835.57" x2="710.32" y2="835.57" stroke="#ae0ce4" stroke-width="2" />
<line x1="736.84" y1="793.46" x2="736.84" y2="846.18" stroke="#ae0ce4" stroke-width="2" />
<line x1="730.04" y1="793.46" x2="743.64" y2="793.46" stroke="#ae0ce4" stroke-width="2" />
<line x1="730.04" y1="846.18" x2="743.64" y2="846.18" stroke="#ae0ce4" stroke-width="2" />
<line x1="770.16" y1="785.5" x2="770.16" y2="824.13" stroke="#ae0ce4" stroke-width="2" />
<line x1="763.36" y1="785.5" x2="776.96" y2="785.5" stroke="#ae0ce4" stroke-width="2" />
<line x1="763.36" y1="824.13" x2="776.96" y2="824.13" stroke="#ae0ce4" stroke-width="2" />
<line x1="803.48" y1="781.77" x2="803.48" y2="830.51" stroke="#ae0ce4" stroke-width="2" />
<line x1="796.68" y1="781.77" x2="810.28" y2="781.77" stroke="#ae0ce4" stroke-width="2" />
<line x1="796.68" y1="830.51" x2="810.28" y2="830.51" stroke="#ae0ce4" stroke-width="2" />
<line x1="836.8" y1="802.74" x2="836.8" y2="843.2" stroke="#ae0ce4" stroke-width="2" />
<line x1="830" y1="802.74" x2="843.6" y2="802.74" stroke="#ae0ce4" stroke-width="2" />
<line x1="830" y1="843.2" x2="843.6" y2="843.2" stroke="#ae0ce4" stroke-width="2" />
<line x1="870.12" y1="792.05" x2="870.12" y2="833.5" stroke="#ae0ce4" stroke-width="2" />
<line x1="863.32" y1="792.05" x2="876.92" y2="792.05" stroke="#ae0ce4" stroke-width="2" />
<line x1="863.32" y1="833.5" x2="876.92" y2="833.5" stroke="#ae0ce4" stroke-width="2" />
<line x1="903.44" y1="796.61" x2="903.44" y2="828.94" stroke="#ae0ce4" stroke-width="2" />
<line x1="896.64" y1="796.61" x2="910.24" y2="796.61" stroke="#ae0ce4" stroke-width="2" />
<line x1="896.64" y1="828.94" x2="910.24" y2="828.94" stroke="#ae0ce4" stroke-width="2" />
<line x1="936.76" y1="796.36" x2="936.76" y2="834.99" stroke="#ae0ce4" stroke-width="2" />
<line x1="929.96" y1="796.36" x2="943.56" y2="796.36" stroke="#ae0ce4" stroke-width="2" />
<line x1="929.96" y1="834.99" x2="943.56" y2="834.99" stroke="#ae0ce4" stroke-width="2" />
<line x1="970.08" y1="784.01" x2="970.08" y2="839.22" stroke="#ae0ce4" stroke-width="2" />
<line x1="963.28" y1="784.01" x2="976.88" y2="784.01" stroke="#ae0ce4" stroke-width="2" />
<line x1="963.28" y1="839.22" x2="976.88" y2="839.22" stroke="#ae0ce4" stroke-width="2" />
<line x1="1003.4" y1="761.62" x2="1003.4" y2="824.96" stroke="#ae0ce4" stroke-width="2" />
<line x1="996.6" y1="761.62" x2="1010.2" y2="761.62" stroke="#ae0ce4" stroke-width="2" />
<line x1="996.6" y1="824.96" x2="1010.2" y2="824.96" stroke="#ae0ce4" stroke-width="2" />
<line x1="1136.68" y1="759.39" x2="1136.68" y2="820.73" stroke="#ae0ce4" stroke-width="2" />
<line x1="1129.88" y1="759.39" x2="1143.48" y2="759.39" stroke="#ae0ce4" stroke-width="2" />
<line x1="1129.88" y1="820.73" x2="1143.48" y2="820.73" stroke="#ae0ce4" stroke-width="2" />
<rect x="663" y="792.89" width="14.4" height="14.4" fill="#ae0ce4"/>
<rect x="696.32" y="807.23" width="14.4" height="14.4" fill="#ae0ce4"/>
<rect x="729.64" y="812.62" width="14.4" height="14.4" fill="#ae0ce4"/>
<rect x="762.96" y="797.62" width="14.4" height="14.4" fill="#ae0ce4"/>
<rect x="796.28" y="798.94" width="14.4" height="14.4" fill="#ae0ce4"/>
<rect x="829.6" y="815.77" width="14.4" height="14.4" fill="#ae0ce4"/>
<rect x="862.92" y="805.57" width="14.4" height="14.4" fill="#ae0ce4"/>
<rect x="896.24" y="805.57" width="14.4" height="14.4" fill="#ae0ce4"/>
<rect x="929.56" y="808.48" width="14.4" height="14.4" fill="#ae0ce4"/>
<rect x="962.88" y="804.41" width="14.4" height="14.4" fill="#ae0ce4"/>
<rect x="996.2" y="786.09" width="14.4" height="14.4" fill="#ae0ce4"/>
<rect x="1129.48" y="782.86" width="14.4" height="14.4" fill="#ae0ce4"/>
<polyline fill="none" stroke="#000000" stroke-width="2" stroke-linejoin="round" points="670.2,819.41 703.52,816.5 736.84,856.3 770.16,869.98 803.48,924.69 836.8,976.09 870.12,1012.56 903.44,1020.02"/>
<line x1="670.2" y1="811.95" x2="670.2" y2="826.87" stroke="#000000" stroke-width="2" />
<line x1="663.4" y1="811.95" x2="677" y2="811.95" stroke="#000000" stroke-width="2" />
<line x1="663.4" y1="826.87" x2="677" y2="826.87" stroke="#000000" stroke-width="2" />
<line x1="703.52" y1="806.97" x2="703.52" y2="826.04" stroke="#000000" stroke-width="2" />
<line x1="696.72" y1="806.97" x2="710.32" y2="806.97" stroke="#000000" stroke-width="2" />
<line x1="696.72" y1="826.04" x2="710.32" y2="826.04" stroke="#000000" stroke-width="2" />
<line x1="736.84" y1="834.99" x2="736.84" y2="877.6" stroke="#000000" stroke-width="2" />
<line x1="730.04" y1="834.99" x2="743.64" y2="834.99" stroke="#000000" stroke-width="2" />
<line x1="730.04" y1="877.6" x2="743.64" y2="877.6" stroke="#000000" stroke-width="2" />
<line x1="770.16" y1="850.91" x2="770.16" y2="889.04" stroke="#000000" stroke-width="2" />
<line x1="763.36" y1="850.91" x2="776.96" y2="850.91" stroke="#000000" stroke-width="2" />
<line x1="763.36" y1="889.04" x2="776.96" y2="889.04" stroke="#000000" stroke-width="2" />
<line x1="803.48" y1="898.99" x2="803.48" y2="950.39" stroke="#000000" stroke-width="2" />
<line x1="796.68" y1="898.99" x2="810.28" y2="898.99" stroke="#000000" stroke-width="2" />
<line x1="796.68" y1="950.39" x2="810.28" y2="950.39" stroke="#000000" stroke-width="2" />
<line x1="836.8" y1="951.8" x2="836.8" y2="1000.38" stroke="#000000" stroke-width="2" />
<line x1="830" y1="951.8" x2="843.6" y2="951.8" stroke="#000000" stroke-width="2" />
<line x1="830" y1="1000.38" x2="843.6" y2="1000.38" stroke="#000000" stroke-width="2" />
<line x1="870.12" y1="991.01" x2="870.12" y2="1034.12" stroke="#000000" stroke-width="2" />
<line x1="863.32" y1="991.01" x2="876.92" y2="991.01" stroke="#000000" stroke-width="2" />
<line x1="863.32" y1="1034.12" x2="876.92" y2="1034.12" stroke="#000000" stroke-width="2" />
<circle cx="670.2" cy="819.41" r="6.7" fill="#fff" stroke="#000000" stroke-width="3.5"/>
<circle cx="703.52" cy="816.5" r="6.7" fill="#fff" stroke="#000000" stroke-width="3.5"/>
<circle cx="736.84" cy="856.3" r="6.7" fill="#fff" stroke="#000000" stroke-width="3.5"/>
<circle cx="770.16" cy="869.98" r="6.7" fill="#fff" stroke="#000000" stroke-width="3.5"/>
<circle cx="803.48" cy="924.69" r="6.7" fill="#fff" stroke="#000000" stroke-width="3.5"/>
<circle cx="836.8" cy="976.09" r="6.7" fill="#fff" stroke="#000000" stroke-width="3.5"/>
<circle cx="870.12" cy="1012.56" r="6.7" fill="#fff" stroke="#000000" stroke-width="3.5"/>
<circle cx="903.44" cy="1020.02" r="6.7" fill="#fff" stroke="#000000" stroke-width="3.5"/>
<line x1="1246" y1="746.8" x2="1281.5" y2="746.8" stroke="#000000" stroke-width="2" />
<circle cx="1263.6" cy="746.8" r="6.7" fill="#fff" stroke="#000000" stroke-width="3.5"/>
<text transform="translate(1301.2 755.8) scale(1 1.045)" font-size="28" font-weight="normal" text-anchor="start" font-family="'Liberation Serif','Times New Roman',serif" stroke="#000" stroke-width="0.3">A</text>
<line x1="1246" y1="790.2" x2="1281.5" y2="790.2" stroke="#ae0ce4" stroke-width="2" />
<rect x="1256.4" y="783" width="14.4" height="14.4" fill="#ae0ce4"/>
<text transform="translate(1301.2 798.9) scale(1 1.045)" font-size="28" font-weight="normal" text-anchor="start" font-family="'Liberation Serif','Times New Roman',serif" stroke="#000" stroke-width="0.3">B</text>
<line x1="1246" y1="836.6" x2="1281.5" y2="836.6" stroke="#00c000" stroke-width="2" />
<polygon points="1256.3,843.9 1270.9,843.9 1263.6,829.3" fill="#00c000" />
<text transform="translate(1301.2 845.3) scale(1 1.045)" font-size="28" font-weight="normal" text-anchor="start" font-family="'Liberation Serif','Times New Roman',serif" stroke="#000" stroke-width="0.3">C</text>
<line x1="1246" y1="880.5" x2="1281.5" y2="880.5" stroke="#bfbf00" stroke-width="2" />
<polygon points="1256.3,873.2 1270.9,873.2 1263.6,887.8" fill="#bfbf00" />
<text transform="translate(1301.2 889) scale(1 1.045)" font-size="28" font-weight="normal" text-anchor="start" font-family="'Liberation Serif','Times New Roman',serif" stroke="#000" stroke-width="0.3">D</text>
<line x1="1246" y1="925" x2="1281.5" y2="925" stroke="#0000ff" stroke-width="2" />
<polygon points="1256.25,925 1263.6,917.65 1270.95,925 1263.6,932.35" fill="#0000ff" />
<text transform="translate(1301.2 933.2) scale(1 1.045)" font-size="28" font-weight="normal" text-anchor="start" font-family="'Liberation Serif','Times New Roman',serif" stroke="#000" stroke-width="0.3">E</text>
<line x1="1246" y1="969.2" x2="1281.5" y2="969.2" stroke="#ff0000" stroke-width="2" />
<circle cx="1263.6" cy="969.2" r="6.7" fill="#fff" stroke="#ff0000" stroke-width="3.5"/>
<text transform="translate(1301.2 977.8) scale(1 1.045)" font-size="28" font-weight="normal" text-anchor="start" font-family="'Liberation Serif','Times New Roman',serif" stroke="#000" stroke-width="0.3">F</text>
</g>
<g id="panel-d">
<text transform="translate(1390.8 661.8) scale(1 1.045)" font-size="34" font-weight="bold" text-anchor="start" font-family="'Liberation Serif','Times New Roman',serif" >d</text>
<text transform="translate(1579.3 680.8) scale(1 1.035)" font-size="32.8" font-weight="bold" text-anchor="start" font-family="'Liberation Serif','Times New Roman',serif" >H5N1 NIBRG14  - 5LD</text>
<text transform="translate(1907.8 687.6) scale(1 0.93)" font-size="26" font-weight="bold" text-anchor="start" font-family="'Liberation Serif','Times New Roman',serif" >50</text>
<line x1="1516.8" y1="751" x2="2003.58" y2="751" stroke="#ff0000" stroke-width="2" />
<line x1="1516.8" y1="751" x2="2003.58" y2="751" stroke="#00c000" stroke-width="2" />
<line x1="1516.8" y1="751" x2="2003.58" y2="751" stroke="#0000ff" stroke-width="2" />
<line x1="1516.8" y1="738.69" x2="2003.58" y2="738.69" stroke="#bfbf00" stroke-width="2" />
<line x1="1516.8" y1="744.84" x2="2003.58" y2="744.84" stroke="#ae0ce4" stroke-width="2" />
<circle cx="2003.58" cy="751" r="6.7" fill="#fff" stroke="#ff0000" stroke-width="3.5"/>
<polygon points="1996.23,751 2003.58,743.65 2010.93,751 2003.58,758.35" fill="#0000ff" />
<polygon points="1996.28,731.39 2010.88,731.39 2003.58,745.99" fill="#bfbf00" />
<rect x="1996.38" y="737.64" width="14.4" height="14.4" fill="#ae0ce4"/>
<polyline fill="none" stroke="#000" stroke-width="1.8" points="1516.8,747.92 1725.42,747.92 1725.42,932.6 1760.19,932.6 1760.19,1055.72"/>
<line x1="1516.8" y1="717.1" x2="1516.8" y2="1074.3" stroke="#000000" stroke-width="5.5" />
<line x1="1501.5" y1="1058.8" x2="2041.1" y2="1058.8" stroke="#000000" stroke-width="5.5" />
<line x1="1501.5" y1="751" x2="1516.8" y2="751" stroke="#000000" stroke-width="5.5" />
<text transform="translate(1497.8 760.5) scale(1 1.045)" font-size="25.5" font-weight="bold" text-anchor="end" font-family="'Liberation Serif','Times New Roman',serif" >100</text>
<line x1="1501.5" y1="904.9" x2="1516.8" y2="904.9" stroke="#000000" stroke-width="5.5" />
<text transform="translate(1497.8 914.4) scale(1 1.045)" font-size="25.5" font-weight="bold" text-anchor="end" font-family="'Liberation Serif','Times New Roman',serif" >50</text>
<line x1="1501.5" y1="1058.8" x2="1516.8" y2="1058.8" stroke="#000000" stroke-width="5.5" />
<text transform="translate(1497.8 1068.3) scale(1 1.045)" font-size="25.5" font-weight="bold" text-anchor="end" font-family="'Liberation Serif','Times New Roman',serif" >0</text>
<line x1="1516.8" y1="1058.8" x2="1516.8" y2="1074.3" stroke="#000000" stroke-width="5.5" />
<text transform="translate(1517.1 1102.6) scale(1 1.045)" font-size="25.5" font-weight="bold" text-anchor="middle" font-family="'Liberation Serif','Times New Roman',serif" >0</text>
<line x1="1551.57" y1="1058.8" x2="1551.57" y2="1067.8" stroke="#000000" stroke-width="5.5" />
<line x1="1586.34" y1="1058.8" x2="1586.34" y2="1067.8" stroke="#000000" stroke-width="5.5" />
<line x1="1621.11" y1="1058.8" x2="1621.11" y2="1067.8" stroke="#000000" stroke-width="5.5" />
<line x1="1655.88" y1="1058.8" x2="1655.88" y2="1067.8" stroke="#000000" stroke-width="5.5" />
<line x1="1690.65" y1="1058.8" x2="1690.65" y2="1074.3" stroke="#000000" stroke-width="5.5" />
<text transform="translate(1690.95 1102.6) scale(1 1.045)" font-size="25.5" font-weight="bold" text-anchor="middle" font-family="'Liberation Serif','Times New Roman',serif" >5</text>
<line x1="1725.42" y1="1058.8" x2="1725.42" y2="1067.8" stroke="#000000" stroke-width="5.5" />
<line x1="1760.19" y1="1058.8" x2="1760.19" y2="1067.8" stroke="#000000" stroke-width="5.5" />
<line x1="1794.96" y1="1058.8" x2="1794.96" y2="1067.8" stroke="#000000" stroke-width="5.5" />
<line x1="1829.73" y1="1058.8" x2="1829.73" y2="1067.8" stroke="#000000" stroke-width="5.5" />
<line x1="1864.5" y1="1058.8" x2="1864.5" y2="1074.3" stroke="#000000" stroke-width="5.5" />
<text transform="translate(1864.8 1102.6) scale(1 1.045)" font-size="25.5" font-weight="bold" text-anchor="middle" font-family="'Liberation Serif','Times New Roman',serif" >10</text>
<line x1="1899.27" y1="1058.8" x2="1899.27" y2="1067.8" stroke="#000000" stroke-width="5.5" />
<line x1="1934.04" y1="1058.8" x2="1934.04" y2="1067.8" stroke="#000000" stroke-width="5.5" />
<line x1="1968.81" y1="1058.8" x2="1968.81" y2="1067.8" stroke="#000000" stroke-width="5.5" />
<line x1="2003.58" y1="1058.8" x2="2003.58" y2="1067.8" stroke="#000000" stroke-width="5.5" />
<line x1="2038.35" y1="1058.8" x2="2038.35" y2="1074.3" stroke="#000000" stroke-width="5.5" />
<text transform="translate(2038.65 1102.6) scale(1 1.045)" font-size="25.5" font-weight="bold" text-anchor="middle" font-family="'Liberation Serif','Times New Roman',serif" >15</text>
<circle cx="1725.42" cy="932.6" r="6.7" fill="#fff" stroke="#000000" stroke-width="3.5"/>
<circle cx="1760.19" cy="1055.72" r="6.7" fill="#fff" stroke="#000000" stroke-width="3.5"/>
<text transform="translate(1776.6 1144.8) scale(1 1.02)" font-size="28" font-weight="bold" text-anchor="middle" font-family="'Liberation Serif','Times New Roman',serif" >Days post infection</text>
<text transform="translate(1444.9 890) rotate(-90) scale(1 1.09)" font-size="27.8" font-weight="bold" text-anchor="middle" font-family="'Liberation Serif','Times New Roman',serif">% of Survival</text>
<text transform="translate(1778.6 1025.6) scale(1 1.06)" font-size="24.2" font-weight="normal" text-anchor="start" font-family="'Liberation Sans',Arial,sans-serif" >&lt;0.0001</text>
</g>
</svg>
</body>
</html>
